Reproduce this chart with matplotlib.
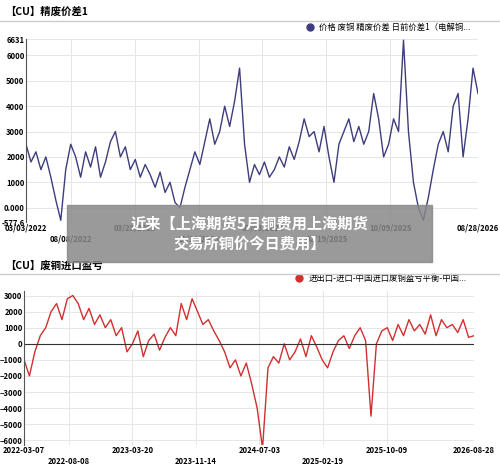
import matplotlib
matplotlib.use("Agg")
import matplotlib.pyplot as plt
import numpy as np

plt.rcParams['font.family'] = ['Noto Sans CJK SC', 'DejaVu Sans']

top_vals = [2500, 1800, 2200, 1500, 2000, 1200, 300, -500, 1500, 2500, 2000, 1200, 2200, 1600,
            2400, 1200, 1800, 2600, 3000, 2000, 2400, 1500, 1900, 1200, 1700, 1300, 800, 1400,
            600, 1000, 200, 0, 800, 1500, 2200, 1700, 2600, 3500, 2500, 3000, 4000, 3200, 4200,
            5500, 2500, 1000, 1700, 1300, 1800, 1200, 1500, 2000, 1600, 2400, 1900, 2600, 3500,
            2800, 3000, 2200, 3200, 2000, 1000, 2500, 3000, 3500, 2600, 3200, 2500, 3000, 4500,
            3500, 2000, 2500, 3500, 3000, 6600, 3000, 1000, 0, -500, 400, 1500, 2500, 3000,
            2200, 4000, 4500, 2000, 3500, 5500, 4500]
bot_vals = [-1000, -2000, -500, 500, 1000, 2000, 2500, 1500, 2800, 3000, 2500, 1500, 2200,
            1200, 1800, 1000, 1500, 500, 1000, -500, 0, 800, -800, 200, 600, -400, 400, 1000,
            500, 2500, 1500, 2800, 2000, 1200, 1500, 800, 200, -500, -1500, -1000, -2000,
            -1200, -2500, -4000, -6500, -1500, -800, -1200, 0, -1000, -500, 300, -800, 500,
            -200, -1000, -1500, -500, 200, 500, -300, 500, 1000, 200, -4500, 0, 800, 1000,
            200, 1200, 500, 1500, 800, 1200, 600, 1800, 500, 1500, 1000, 1200, 700, 1500, 400, 500]
top_ticks = ['03/03/2022', '08/08/2022', '03/28/2023', '11/14/2023', '07/03/2024',
             '02/19/2025', '10/09/2025', '08/28/2026']
bot_ticks = ['2022-03-07', '2022-08-08', '2023-03-20', '2023-11-14', '2024-07-03',
             '2025-02-19', '2025-10-09', '2026-08-28']

fig = plt.figure(figsize=(5, 4.75), dpi=100)

def ticks_for(ax, labels, xmax):
    pos = [0] + [xmax * (70 - 25 + 64 * i) / 453 for i in range(6)] + [xmax]
    ax.set_xticks(pos)
    ax.set_xticklabels([l if i % 2 == 0 or i == 7 else '\n' + l for i, l in enumerate(labels)])
    ax.tick_params(axis='x', length=0, labelsize=5.5, pad=1)
    ax.tick_params(axis='y', length=0, labelsize=5.5, pad=1)
    for t in ax.get_xticklabels():
        t.set_fontweight('bold')
    for t in ax.get_yticklabels():
        t.set_fontweight('bold')
    ax.grid(True, axis='both', color='#e6e6e6', lw=0.7)
    for s in ['top', 'right', 'bottom']:
        ax.spines[s].set_visible(False)
    ax.spines['left'].set_color('#555555')
    ax.set_xlim(0, xmax)

ax1 = fig.add_axes([0.052, 0.532, 0.904, 0.385])
x1 = np.arange(len(top_vals))
ax1.plot(x1, top_vals, color='#3d3d7e', lw=1.0)
ax1.set_ylim(-577.6, 6631)
ax1.set_yticks([-577.6, 0, 1000, 2000, 3000, 4000, 5000, 6000, 6631])
ax1.set_yticklabels(['-577.6', '0.000', '1000', '2000', '3000', '4000', '5000', '6000', '6631'])
ticks_for(ax1, top_ticks, len(top_vals) - 1)
ax1.plot([], [], 'o', color='#3d3d7e', ms=5, label='价格 废铜 精废价差 日前价差1（电解铜...')
ax1.legend(loc='lower right', bbox_to_anchor=(1.0, 1.0), frameon=False, fontsize=6, handletextpad=0.1)

ax2 = fig.add_axes([0.048, 0.063, 0.9, 0.325])
x2 = np.arange(len(bot_vals))
ax2.plot(x2, bot_vals, color='#d03030', lw=1.0)
ax2.axhline(0, color='#333333', lw=0.8)
ax2.set_ylim(-6300, 3300)
ax2.set_yticks(range(-6000, 3001, 1000))
ticks_for(ax2, bot_ticks, len(bot_vals) - 1)
ax2.plot([], [], 'o', color='#d03030', ms=5, label='进出口-进口-中国进口废铜盈亏平衡-中国...')
ax2.legend(loc='lower right', bbox_to_anchor=(1.0, 1.0), frameon=False, fontsize=6, handletextpad=0.1)

fig.text(0.01, 0.975, '【CU】精废价差1', fontsize=7.5, weight='bold', va='center')
fig.text(0.01, 0.44, '【CU】废铜进口盈亏', fontsize=7.5, weight='bold', va='center')
fig.add_artist(plt.Line2D([0, 1], [0.955, 0.955], color='#cccccc', lw=1))
fig.add_artist(plt.Line2D([0, 1], [0.423, 0.423], color='#cccccc', lw=1))

fig.patches.append(plt.Rectangle((0.134, 0.448), 0.73, 0.12, transform=fig.transFigure,
                                 color='#888888', alpha=0.85, zorder=5))
fig.text(0.5, 0.508, '近来【上海期货5月铜费用上海期货\n交易所铜价今日费用】', ha='center', va='center',
         color='white', fontsize=11, weight='bold', zorder=6, linespacing=1.3)

fig.savefig('out.png', dpi=100)
